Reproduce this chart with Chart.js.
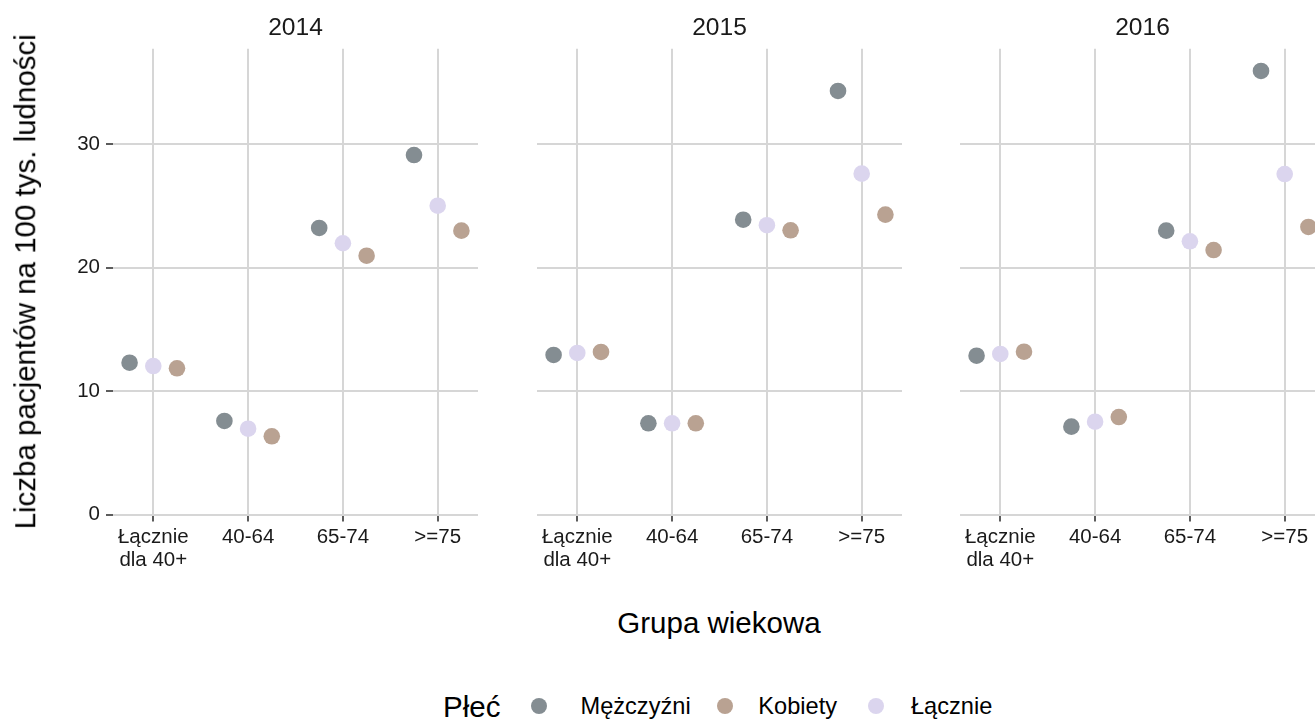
<!DOCTYPE html>
<html lang="pl">
<head>
<meta charset="utf-8">
<title>Liczba pacjentów na 100 tys. ludności</title>
<script src="https://cdn.jsdelivr.net/npm/chart.js@4.4.1/dist/chart.umd.min.js"></script>
<style>
  html, body { margin: 0; padding: 0; background: #ffffff; }
  body { width: 1315px; height: 722px; overflow: hidden; position: relative;
         font-family: "Liberation Sans", Arial, sans-serif; }
  canvas { position: absolute; top: 0; }
  .txt { position: absolute; white-space: nowrap; line-height: 1; color: #000; }
  .dot { position: absolute; border-radius: 50%; }
</style>
</head>
<body>
<script>
// ---- data ----------------------------------------------------------------
const years = ['2014', '2015', '2016'];
const ageGroups = [['Łącznie', 'dla 40+'], '40-64', '65-74', '>=75'];
const yTicks = [0, 10, 20, 30];
const seriesNames = ['Mężczyźni', 'Kobiety', 'Łącznie'];

const men2014   = [12.30, 7.58, 23.22, 29.13];
const women2014 = [11.85, 6.34, 20.97, 23.00];
const total2014 = [12.03, 6.95, 21.98, 25.02];

const men2015   = [12.93, 7.39, 23.89, 34.32];
const women2015 = [13.17, 7.39, 23.03, 24.30];
const total2015 = [13.09, 7.39, 23.44, 27.62];

const men2016   = [12.87, 7.12, 23.00, 35.94];
const women2016 = [13.19, 7.90, 21.43, 23.30];
const total2016 = [13.01, 7.52, 22.14, 27.59];

// ---- styling -------------------------------------------------------------
const FONT = '"Liberation Sans", Arial, sans-serif';
const seriesColors = ['#848D92', '#B9A292', '#DBD5EE'];
const seriesDodge = [-0.25, 0.25, 0];          // men left, women right, total centre
const GRID = '#D6D6D6';
const TICK = '#333333';

// panel geometry (px)
const PANEL_LEFTS = [113, 537, 960];
const PANEL_W = 365;
const PANEL_TOP = 48.8;
const PANEL_BOTTOM = 514.5;
const Y_AXIS_W = 113;
const CANVAS_W = 500, CANVAS_H = 600;

const panelValues = [
  [men2014, women2014, total2014],
  [men2015, women2015, total2015],
  [men2016, women2016, total2016]
];

// x range: dodged positions plus 5% expansion; y from 0 with 5% headroom
const xLo = 1 + Math.min(...seriesDodge), xHi = ageGroups.length + Math.max(...seriesDodge);
const X_MIN = xLo - 0.05 * (xHi - xLo), X_MAX = xHi + 0.05 * (xHi - xLo);
const allValues = panelValues.flat(2);
const Y_MAX = Math.max(...allValues) * 1.05;

function makePanel(idx) {
  const cv = document.createElement('canvas');
  cv.width = CANVAS_W; cv.height = CANVAS_H;
  cv.style.left = (PANEL_LEFTS[idx] - Y_AXIS_W) + 'px';
  document.body.appendChild(cv);
  const showY = idx === 0;

  const datasets = seriesNames.map((name, s) => ({
    label: name,
    data: panelValues[idx][s].map((v, i) => ({ x: i + 1 + seriesDodge[s], y: v })),
    backgroundColor: seriesColors[s],
    pointBackgroundColor: seriesColors[s],
    pointBorderWidth: 0,
    pointBorderColor: 'rgba(0,0,0,0)',
    pointRadius: 8.3,
    pointHoverRadius: 8.3
  }));

  new Chart(cv, {
    type: 'scatter',
    data: { datasets },
    options: {
      responsive: false,
      animation: false,
      events: [],
      layout: { padding: { top: PANEL_TOP, right: CANVAS_W - Y_AXIS_W - PANEL_W, bottom: 0, left: 0 } },
      plugins: { legend: { display: false }, tooltip: { enabled: false } },
      scales: {
        x: {
          type: 'linear',
          min: X_MIN, max: X_MAX,
          afterBuildTicks: sc => { sc.ticks = ageGroups.map((_, i) => ({ value: i + 1 })); },
          afterFit: sc => { sc.height = CANVAS_H - PANEL_BOTTOM; },
          border: { display: false },
          grid: { color: GRID, lineWidth: 2, drawTicks: true, tickLength: 7, tickColor: TICK, tickWidth: 1.6 },
          ticks: {
            autoSkip: false, maxRotation: 0, minRotation: 0, padding: 5,
            color: '#1a1a1a',
            font: { family: FONT, size: 20.5, lineHeight: 1.09 },
            callback: (v, i) => ageGroups[i]
          }
        },
        y: {
          type: 'linear',
          min: 0, max: Y_MAX,
          afterBuildTicks: sc => { sc.ticks = yTicks.map(v => ({ value: v })); },
          afterFit: sc => { sc.width = Y_AXIS_W; },
          border: { display: false },
          grid: { color: GRID, lineWidth: 2, drawTicks: showY, tickLength: 7, tickColor: TICK, tickWidth: 1.6 },
          ticks: {
            display: showY, padding: 6,
            color: '#1a1a1a',
            font: { family: FONT, size: 20.5 },
            callback: v => String(v)
          }
        }
      }
    }
  });
}

years.forEach((_, i) => makePanel(i));

// ---- text ----------------------------------------------------------------
const ASC = 0.8465; // baseline offset inside a line-height:1 box
function addText(str, x, baseline, size, align, color) {
  const d = document.createElement('div');
  d.className = 'txt';
  d.textContent = str;
  d.style.fontSize = size + 'px';
  d.style.color = color || '#000';
  d.style.top = (baseline - ASC * size) + 'px';
  if (align === 'center') {
    d.style.left = (x - 500) + 'px';
    d.style.width = '1000px';
    d.style.textAlign = 'center';
  } else {
    d.style.left = x + 'px';
  }
  document.body.appendChild(d);
  return d;
}

// facet strips
years.forEach((y, i) => addText(y, PANEL_LEFTS[i] + PANEL_W / 2, 36, 24.6, 'center', '#1a1a1a'));

// axis titles
addText('Grupa wiekowa', (PANEL_LEFTS[0] + PANEL_LEFTS[2] + PANEL_W) / 2, 633, 29.5, 'center');
(function () {
  const size = 29.5, baseX = 35, cy = (PANEL_TOP + PANEL_BOTTOM) / 2;
  const cx = baseX - (ASC - 0.5) * size;
  const d = document.createElement('div');
  d.className = 'txt';
  d.textContent = 'Liczba pacjentów na 100 tys. ludności';
  d.style.fontSize = size + 'px';
  d.style.width = '700px';
  d.style.height = size + 'px';
  d.style.textAlign = 'center';
  d.style.left = (cx - 350) + 'px';
  d.style.top = (cy - size / 2) + 'px';
  d.style.transform = 'rotate(-90deg)';
  document.body.appendChild(d);
})();

// legend
const LEGEND_Y = 706;
addText('Płeć', 443, LEGEND_Y + 11, 29.5);
const legendDotX = [539, 724.8, 876];
const legendTextX = [580.5, 758.3, 911];
seriesNames.forEach((name, s) => {
  const dot = document.createElement('div');
  dot.className = 'dot';
  const r = 8.3;
  dot.style.width = dot.style.height = (2 * r) + 'px';
  dot.style.left = (legendDotX[s] - r) + 'px';
  dot.style.top = (LEGEND_Y - r) + 'px';
  dot.style.background = seriesColors[s];
  document.body.appendChild(dot);
  addText(name, legendTextX[s], LEGEND_Y + 8.5, 23.6);
});
</script>
</body>
</html>
